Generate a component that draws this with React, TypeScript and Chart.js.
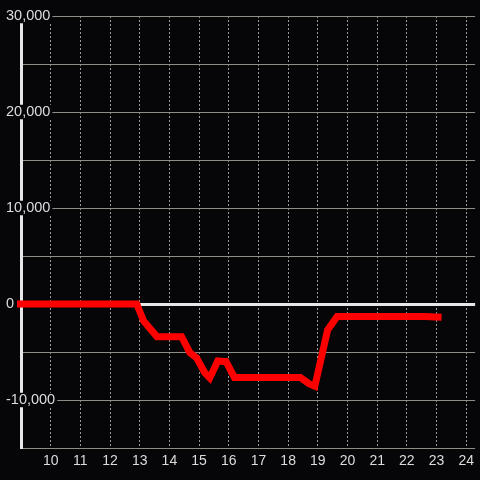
import React, { useEffect, useRef } from "react";
import { Chart, registerables } from "chart.js";

Chart.register(...registerables);

const HOURS = [8.8, 12.9, 13.13, 13.58, 14.41, 14.69, 14.91, 15.19, 15.36, 15.63, 15.91, 16.19, 18.41, 18.7, 18.9, 19.33, 19.65, 22.6, 23.17];
const VALUES = [0, 0, -1770, -3400, -3400, -5070, -5590, -7150, -7700, -5940, -6010, -7650, -7650, -8300, -8560, -2710, -1300, -1300, -1380];
const X_TICKS = [10, 11, 12, 13, 14, 15, 16, 17, 18, 19, 20, 21, 22, 23, 24];
const Y_MIN = -15000;
const Y_MAX = 30000;
const Y_STEP = 5000;
const Y_LABEL_STEP = 10000;
const X_MIN = 9;
const X_MAX = 24.3;

const BG = "#060608";
const TEXT = "#dcdcdc";
const AXIS = "#e6e6e6";
const GRID = "#8a8e86";
const VGRID = "#9a9a9a";

export default function App() {
  const ref = useRef<HTMLCanvasElement | null>(null);

  useEffect(() => {
    if (!ref.current) return;
    const chart = new Chart(ref.current, {
      type: "line",
      data: {
        datasets: [
          {
            data: HOURS.map((h, i) => ({ x: h, y: VALUES[i] })),
            borderColor: "#ff0000",
            borderWidth: 7,
            pointRadius: 0,
            tension: 0,
            borderCapStyle: "butt",
            fill: false,
            clip: { left: 4, top: 4, right: 4, bottom: 4 },
          },
        ],
      },
      options: {
        animation: false,
        responsive: false,
        maintainAspectRatio: false,
        layout: { padding: { left: 0, top: 16, right: 0, bottom: 0 } },
        plugins: { legend: { display: false }, tooltip: { enabled: false } },
        scales: {
          x: {
            type: "linear",
            min: X_MIN,
            max: X_MAX,
            afterBuildTicks: (s: any) => {
              s.ticks = X_TICKS.map((v) => ({ value: v }));
            },
            afterFit: (s: any) => {
              s.height = 32;
            },
            grid: {
              color: VGRID,
              lineWidth: 1,
              drawTicks: false,
            },
            border: { display: false, dash: [2, 2] },
            ticks: {
              color: TEXT,
              font: { family: "'Liberation Sans', Arial, sans-serif", size: 14, lineHeight: 1 },
              padding: 6,
              maxRotation: 0,
              autoSkip: false,
            },
          },
          y: {
            type: "linear",
            min: Y_MIN,
            max: Y_MAX,
            afterFit: (s: any) => {
              s.width = 21;
            },
            grid: {
              color: (ctx: any) => (ctx.tick && ctx.tick.value === 0 ? AXIS : GRID),
              lineWidth: (ctx: any) => (ctx.tick && ctx.tick.value === 0 ? 3 : 1),
              drawTicks: false,
            },
            border: { display: true, color: AXIS, width: 3 },
            ticks: {
              stepSize: Y_STEP,
              color: TEXT,
              z: 1,
              mirror: true,
              crossAlign: "near",
              padding: -15,
              font: { family: "'Liberation Sans', Arial, sans-serif", size: 14.5, lineHeight: 1 },
              callback: (v: any) => (Number(v) % Y_LABEL_STEP === 0 ? Number(v).toLocaleString("en-US") : ""),
              showLabelBackdrop: (ctx: any) => ctx.tick && ctx.tick.value % Y_LABEL_STEP === 0,
              backdropColor: BG,
              backdropPadding: { left: 1, right: 2, top: 0, bottom: 0 },
            },
          },
        },
      },
      plugins: [
        {
          id: "bg",
          beforeDraw: (c: any) => {
            const ctx = c.ctx;
            ctx.save();
            ctx.fillStyle = BG;
            ctx.fillRect(0, 0, c.width, c.height);
            ctx.restore();
          },
        },
      ],
    });
    return () => chart.destroy();
  }, []);

  return (
    <div style={{ position: "fixed", left: 0, top: 0, width: 480, height: 480, background: BG }}>
      <canvas ref={ref} width={480} height={480} style={{ display: "block", width: 480, height: 480 }} />
    </div>
  );
}
